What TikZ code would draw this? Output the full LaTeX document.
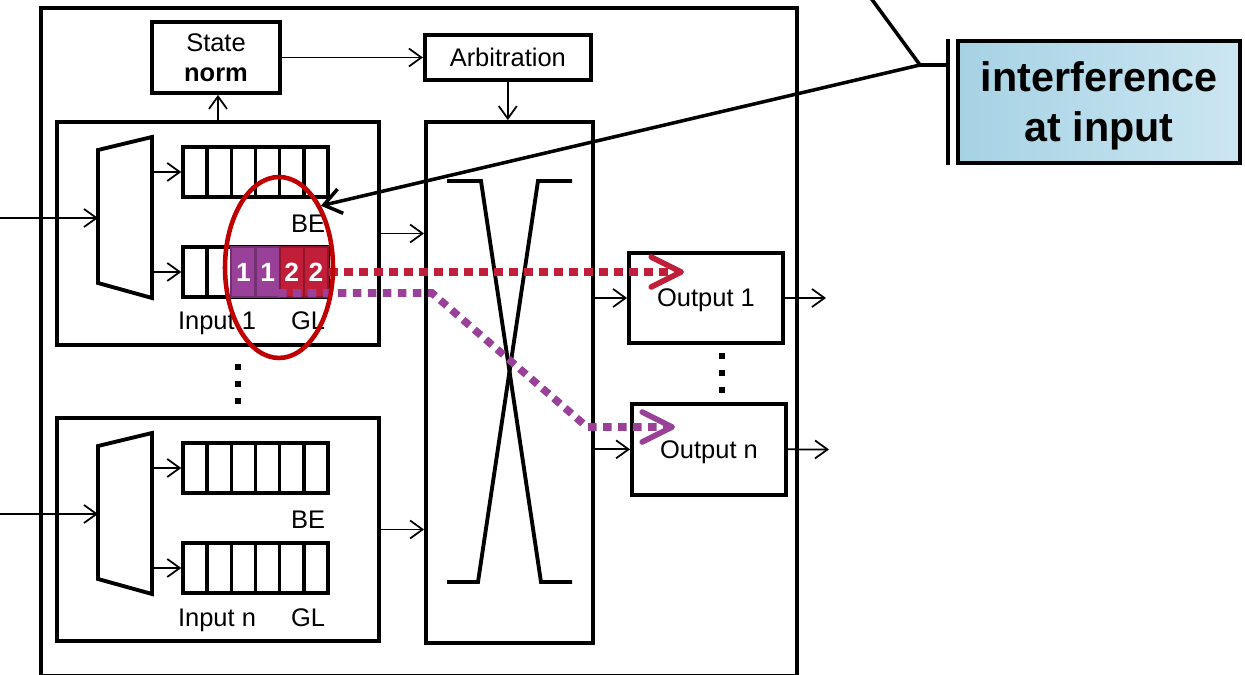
\documentclass[tikz,border=0pt]{standalone}
\usepackage{fontspec}
\setmainfont{Liberation Sans}
\usepackage{xcolor}
\usetikzlibrary{arrows.meta,positioning,shapes.geometric}
\definecolor{flowpurple}{RGB}{153,64,153}
\definecolor{flowred}{RGB}{193,30,58}
\definecolor{focusred}{RGB}{192,0,0}
\definecolor{calloutleft}{RGB}{166,210,228}
\definecolor{calloutright}{RGB}{204,230,241}

\begin{document}
\begin{tikzpicture}[
    x=0.02cm, y=-0.02cm,
    font=\fontsize{14.5}{17}\selectfont,
    box/.style={draw, line width=2.2pt, inner sep=0pt, align=center},
    cell/.style={draw, line width=2pt, minimum width=0.4833cm, minimum height=1cm, inner sep=0pt, font=\fontsize{15}{15}\selectfont\bfseries, text=white},
    lbl/.style={inner sep=0pt, anchor=base},
    arr/.style={-{Straight Barb[length=2.5mm,width=3.6mm]}, line width=1pt},
    xline/.style={line width=2.2pt},
    flow/.style={line width=4.3pt, dash pattern=on 0.17cm off 0.13cm},
    flowtip/.style={-{Straight Barb[length=6mm,width=6mm,line width=3.2pt,round]}},
    vdots/.style={line width=0.12cm, dash pattern=on 0.12cm off 0.22cm},
    leader/.style={line width=2pt}
]
\useasboundingbox (0,0) rectangle (1245,675);

% router frame
\node[box, minimum width=15.12cm, minimum height=13.36cm] (router) at (419,342) {};

\node[box, minimum width=2.56cm, minimum height=1.42cm] (state) at (216,57.5) {State\\\textbf{norm}};
\node[box, minimum width=3.32cm, minimum height=0.9cm, right=2.82cm of state] (arb) {Arbitration};
\node[box, minimum width=3.34cm, minimum height=10.42cm] (xbar) at (509.5,382.5) {};

% input ports
\foreach \n/\dy in {1/0, n/296} {
  \node[box, minimum width=6.44cm, minimum height=4.46cm] (input\n) at (218,{233.5+\dy}) {};
  \draw[box] (98,{150+\dy}) -- (152,{137+\dy}) -- (152,{298+\dy}) -- (98,{283+\dy}) -- cycle;
  \coordinate (dmx\n) at (98,{218+\dy});
  \coordinate (src\n) at (0,{218+\dy});
  \foreach \i in {1,...,6} {
    \node[cell] (be\n-\i) at ({183+24.17*(\i-0.5)},{172+\dy}) {};
    \node[cell] (gl\n-\i) at ({183+24.17*(\i-0.5)},{272+\dy}) {};
  }
  \node[lbl] (belbl\n) at (308,{233+\dy}) {BE};
  \node[lbl] (inlbl\n) at (217,{330+\dy}) {Input \n};
  \node[lbl] (gllbl\n) at (308,{330+\dy}) {GL};
  \draw[arr] (src\n) -- (dmx\n);
  \draw[arr] ([xshift=-0.6cm]be\n-1.west) -- (be\n-1.west);
  \draw[arr] ([xshift=-0.6cm]gl\n-1.west) -- (gl\n-1.west);
  \draw[arr] (input\n.east) -- (input\n.east -| xbar.west);
}

% queued packets
\foreach \i/\f/\t in {3/flowpurple/1, 4/flowpurple/1, 5/flowred/2, 6/flowred/2}
  \node[cell, fill=\f, draw=\f!75!black, line width=1.2pt] (pkt-\i) at (gl1-\i) {\t};

\draw[arr] (input1.north) -- (input1.north |- state.south);
\draw[arr] (state.east) -- (arb.west);
\draw[arr] (arb.south) -- (arb.south |- xbar.north);

% crossbar
\draw[xline] (447,181) -- (481,181) -- (541,582) -- (572,582);
\draw[xline] (572,181) -- (538,181) -- (478,582) -- (447,582);

% output ports
\node[box, minimum width=3.08cm, minimum height=1.8cm, text depth=0pt] (out1) at (706,298) {Output 1};
\node[box, minimum width=3.08cm, minimum height=1.82cm, text depth=0pt, below=1.14cm of out1, xshift=0.06cm] (outn) {Output n};
\coordinate (sink1) at (826,298);
\coordinate (sinkn) at (829,449.5);
\draw[arr] (xbar.east |- out1.west) -- (out1.west);
\draw[arr] (xbar.east |- outn.west) -- (outn.west);
\draw[arr] (out1.east) -- (sink1);
\draw[arr] (outn.east) -- (sinkn);

\draw[vdots] (238,364) -- (238,405);
\draw[vdots] (722,353) -- (722,394);

% flows
\coordinate (redtip) at (684,272);
\coordinate (purpstart) at (278,293);
\coordinate (bend1) at (432,293);
\coordinate (bend2) at (587,427);
\coordinate (purptip) at (675,427);
\draw[flow, flowred, flowtip] (pkt-6.east) -- (redtip);
\draw[flow, flowpurple, flowtip] (purpstart) -- (bend1) -- (bend2) -- (purptip);

\node[ellipse, draw=focusred, line width=2.6pt, minimum width=2.16cm, minimum height=3.62cm, inner sep=0pt] (focus) at (279,267.5) {};

% callout
\node[box, left color=calloutleft, right color=calloutright, minimum width=5.64cm, minimum height=2.44cm, text depth=0pt, font=\fontsize{23.5}{28.5}\selectfont\bfseries] (callout) at (1099,102) {interference\\at input};
\coordinate (stub) at ([xshift=-0.16cm]callout.north west);
\coordinate (joint) at (920,65);
\coordinate (lead) at (865,-10);
\draw[leader] (stub) -- (stub |- callout.south);
\draw[leader] (lead) -- (joint) -- (joint -| stub);
\draw[leader, -{Straight Barb[length=3.4mm,width=5mm]}] (joint) -- ([xshift=0.1cm,yshift=-0.14cm]be1-6.south);

\end{tikzpicture}
\end{document}
